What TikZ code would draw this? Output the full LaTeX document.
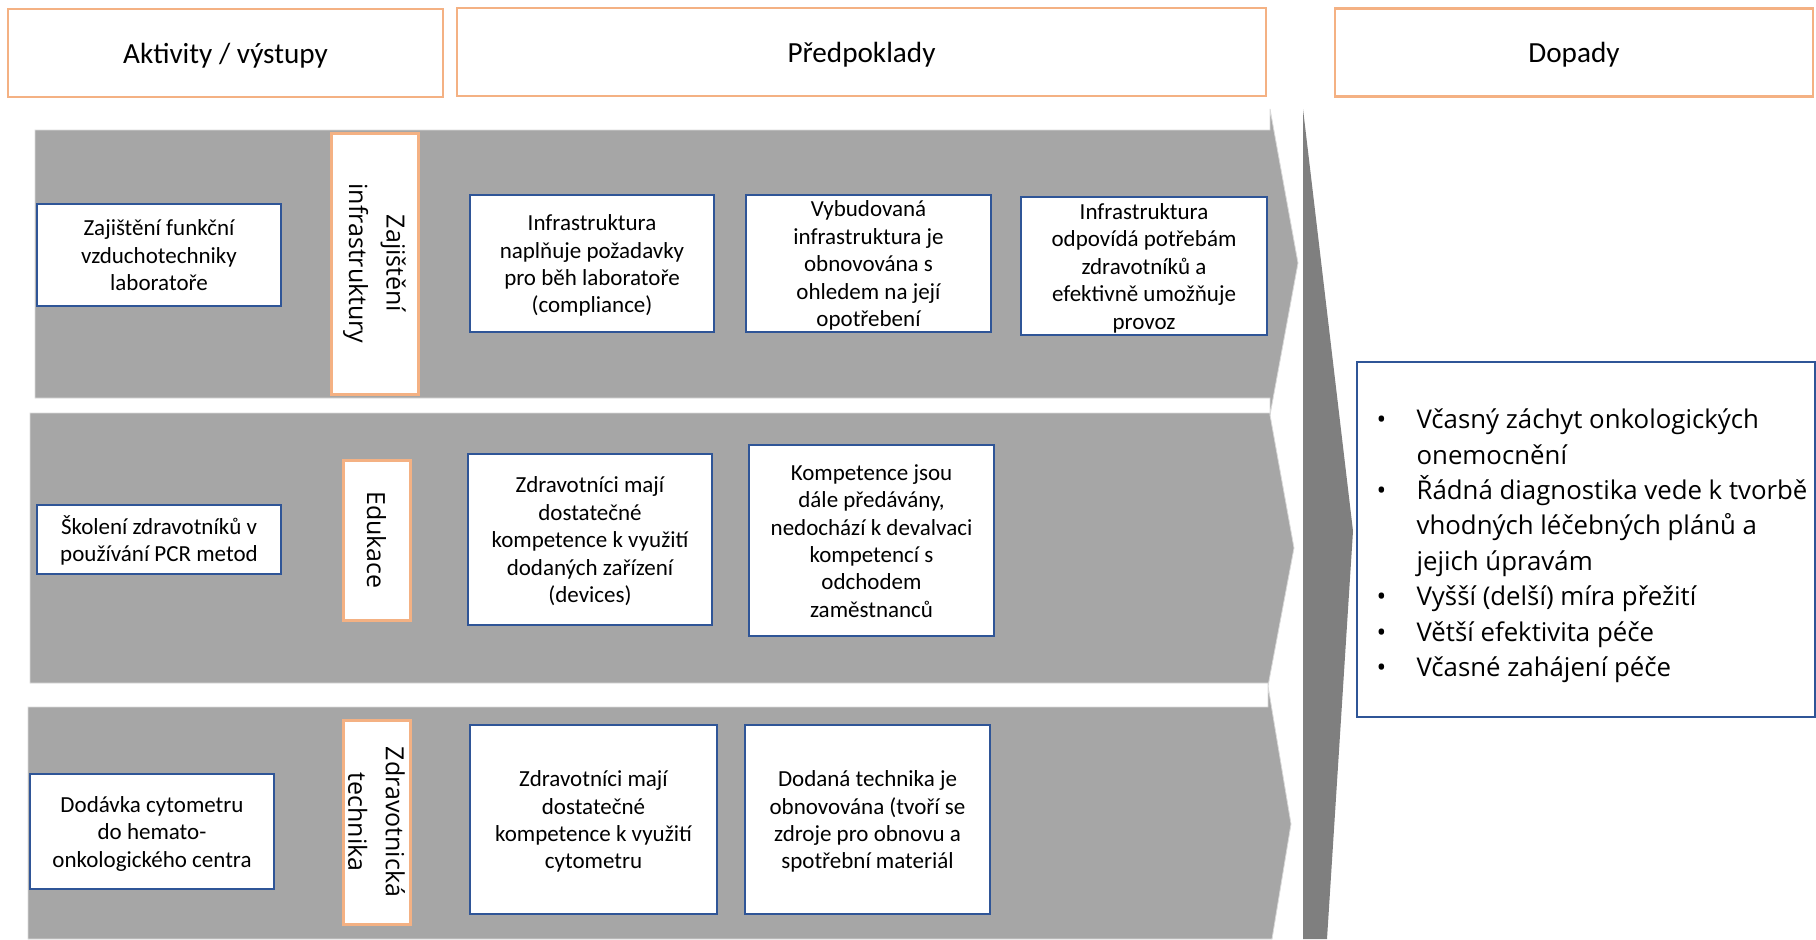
\documentclass[tikz,border=0pt]{standalone}
\usepackage[usenames,dvipsnames]{xcolor}
\usepackage{fontspec}
\setmainfont{Carlito}
\newfontfamily\segoe{Open Sans}
\usepackage{tikz}
\usetikzlibrary{positioning}

\definecolor{peach}{HTML}{F4B183}
\definecolor{navy}{HTML}{2F5597}
\definecolor{bandgray}{HTML}{A6A6A6}
\definecolor{arrowgray}{HTML}{7F7F7F}

% text sits a little low in the boxes
\newcommand{\lowered}[2]{\raisebox{-#1}[\height][\depth]{\begin{tabular}{@{}c@{}}#2\end{tabular}}}
\newcommand{\impbullet}{\makebox[20pt][l]{•}}
\newcommand{\impindent}{\hspace*{20pt}}

\begin{document}
\begin{tikzpicture}[
                x=0.5pt, y=-0.5pt,
                headbox/.style={rectangle, draw=peach, line width=1.3pt, fill=white, minimum height=44pt, font=\fontsize{14.6}{17}\selectfont},
                outbox/.style={rectangle, draw=navy, line width=1.2pt, fill=white, align=center, inner sep=0pt, font=\fontsize{11.5}{13.7}\selectfont},
                lanebox/.style={rectangle, draw=peach, line width=1.5pt, fill=white, align=center, rotate=-90, inner sep=0pt, font=\segoe\fontsize{12.5}{18.8}\selectfont},
                band/.style={fill=bandgray, draw=black!15, line width=0.4pt}
            ]
                \useasboundingbox (0,0) rectangle (1816,939);

                % lanes
                \draw[band] (35,130) -- (1270,130) -- (1270,109) -- (1298,263) -- (1270,415) -- (1270,398) -- (35,398) -- cycle;
                \draw[band] (30,413) -- (1270,413) -- (1270,415) -- (1294,548) -- (1268,686) -- (1268,683) -- (30,683) -- cycle;
                \draw[band] (28,707) -- (1268,707) -- (1268,686) -- (1291,824) -- (1272,939) -- (28,939) -- cycle;
                \fill[arrowgray] (1303,109) -- (1353,531) -- (1327,939) -- (1303,939) -- cycle;

                % headers
                \node[headbox, minimum width=217.5pt] (hAkt) at (225.5,53) {\lowered{1.8pt}{Aktivity / výstupy}};
                \node[headbox, minimum width=404.5pt] (hPred) at (861.5,52) {\lowered{1.8pt}{Předpoklady}};
                \node[headbox, minimum width=239pt] (hDop) at (1574,52.5) {\lowered{1.8pt}{Dopady}};

                % infrastruktura
                \node[outbox, minimum width=122pt, minimum height=51pt] (act1) at (159,255) {\lowered{1.4pt}{Zajištění funkční\\vzduchotechniky\\laboratoře}};
                \node[lanebox, minimum width=130.5pt, minimum height=43.5pt] (lane1) at (374.5,263.5) {Zajištění\\infrastruktury};
                \node[outbox, minimum width=122pt, minimum height=68.5pt] (pre11) at (592,263.5) {\lowered{1.4pt}{Infrastruktura\\naplňuje požadavky\\pro běh laboratoře\\(compliance)}};
                \node[outbox, minimum width=122.5pt, minimum height=68.5pt] (pre12) at (868.5,263.5) {\lowered{1.4pt}{Vybudovaná\\infrastruktura je\\obnovována s\\ohledem na její\\opotřebení}};
                \node[outbox, minimum width=123pt, minimum height=69pt] (pre13) at (1144,266) {\lowered{1.4pt}{Infrastruktura\\odpovídá potřebám\\zdravotníků a\\efektivně umožňuje\\provoz}};

                % edukace
                \node[outbox, minimum width=122pt, minimum height=34.5pt] (act2) at (159,539.5) {\lowered{1.4pt}{Školení zdravotníků v\\používání PCR metod}};
                \node[lanebox, minimum width=80pt, minimum height=33.5pt] (lane2) at (376.5,540) {Edukace};
                \node[outbox, minimum width=122pt, minimum height=85.5pt] (pre21) at (590,539.5) {\lowered{1.4pt}{Zdravotníci mají\\dostatečné\\kompetence k využití\\dodaných zařízení\\(devices)}};
                \node[outbox, minimum width=122.5pt, minimum height=95.5pt] (pre22) at (871.5,540.5) {\lowered{1.4pt}{Kompetence jsou\\dále předávány,\\nedochází k devalvaci\\kompetencí s\\odchodem\\zaměstnanců}};

                % technika
                \node[outbox, minimum width=122pt, minimum height=57.5pt] (act3) at (152,831.5) {\lowered{1.4pt}{Dodávka cytometru\\do hemato-\\onkologického centra}};
                \node[lanebox, minimum width=102pt, minimum height=33.5pt] (lane3) at (376.5,822) {Zdravotnická\\technika};
                \node[outbox, minimum width=123.5pt, minimum height=94.5pt] (pre31) at (593.5,819.5) {\lowered{1.4pt}{Zdravotníci mají\\dostatečné\\kompetence k využití\\cytometru}};
                \node[outbox, minimum width=122.5pt, minimum height=94.5pt] (pre32) at (867.5,819.5) {\lowered{1.4pt}{Dodaná technika je\\obnovována (tvoří se\\zdroje pro obnovu a\\spotřební materiál}};

                % dopady
                \node[outbox, minimum width=229pt, minimum height=177.5pt, font=\segoe\fontsize{12.9}{17.7}\selectfont] (impacts) at (1586,539.5) {\raisebox{-3pt}[\height][\depth]{\begin{tabular}{@{\hspace{6pt}}l@{}}
                    \impbullet Včasný záchyt onkologických\\
                    \impindent onemocnění\\
                    \impbullet Řádná diagnostika vede k tvorbě\\
                    \impindent vhodných léčebných plánů a\\
                    \impindent jejich úpravám\\
                    \impbullet Vyšší (delší) míra přežití\\
                    \impbullet Větší efektivita péče\\
                    \impbullet Včasné zahájení péče
                \end{tabular}}};
            \end{tikzpicture}
\end{document}
